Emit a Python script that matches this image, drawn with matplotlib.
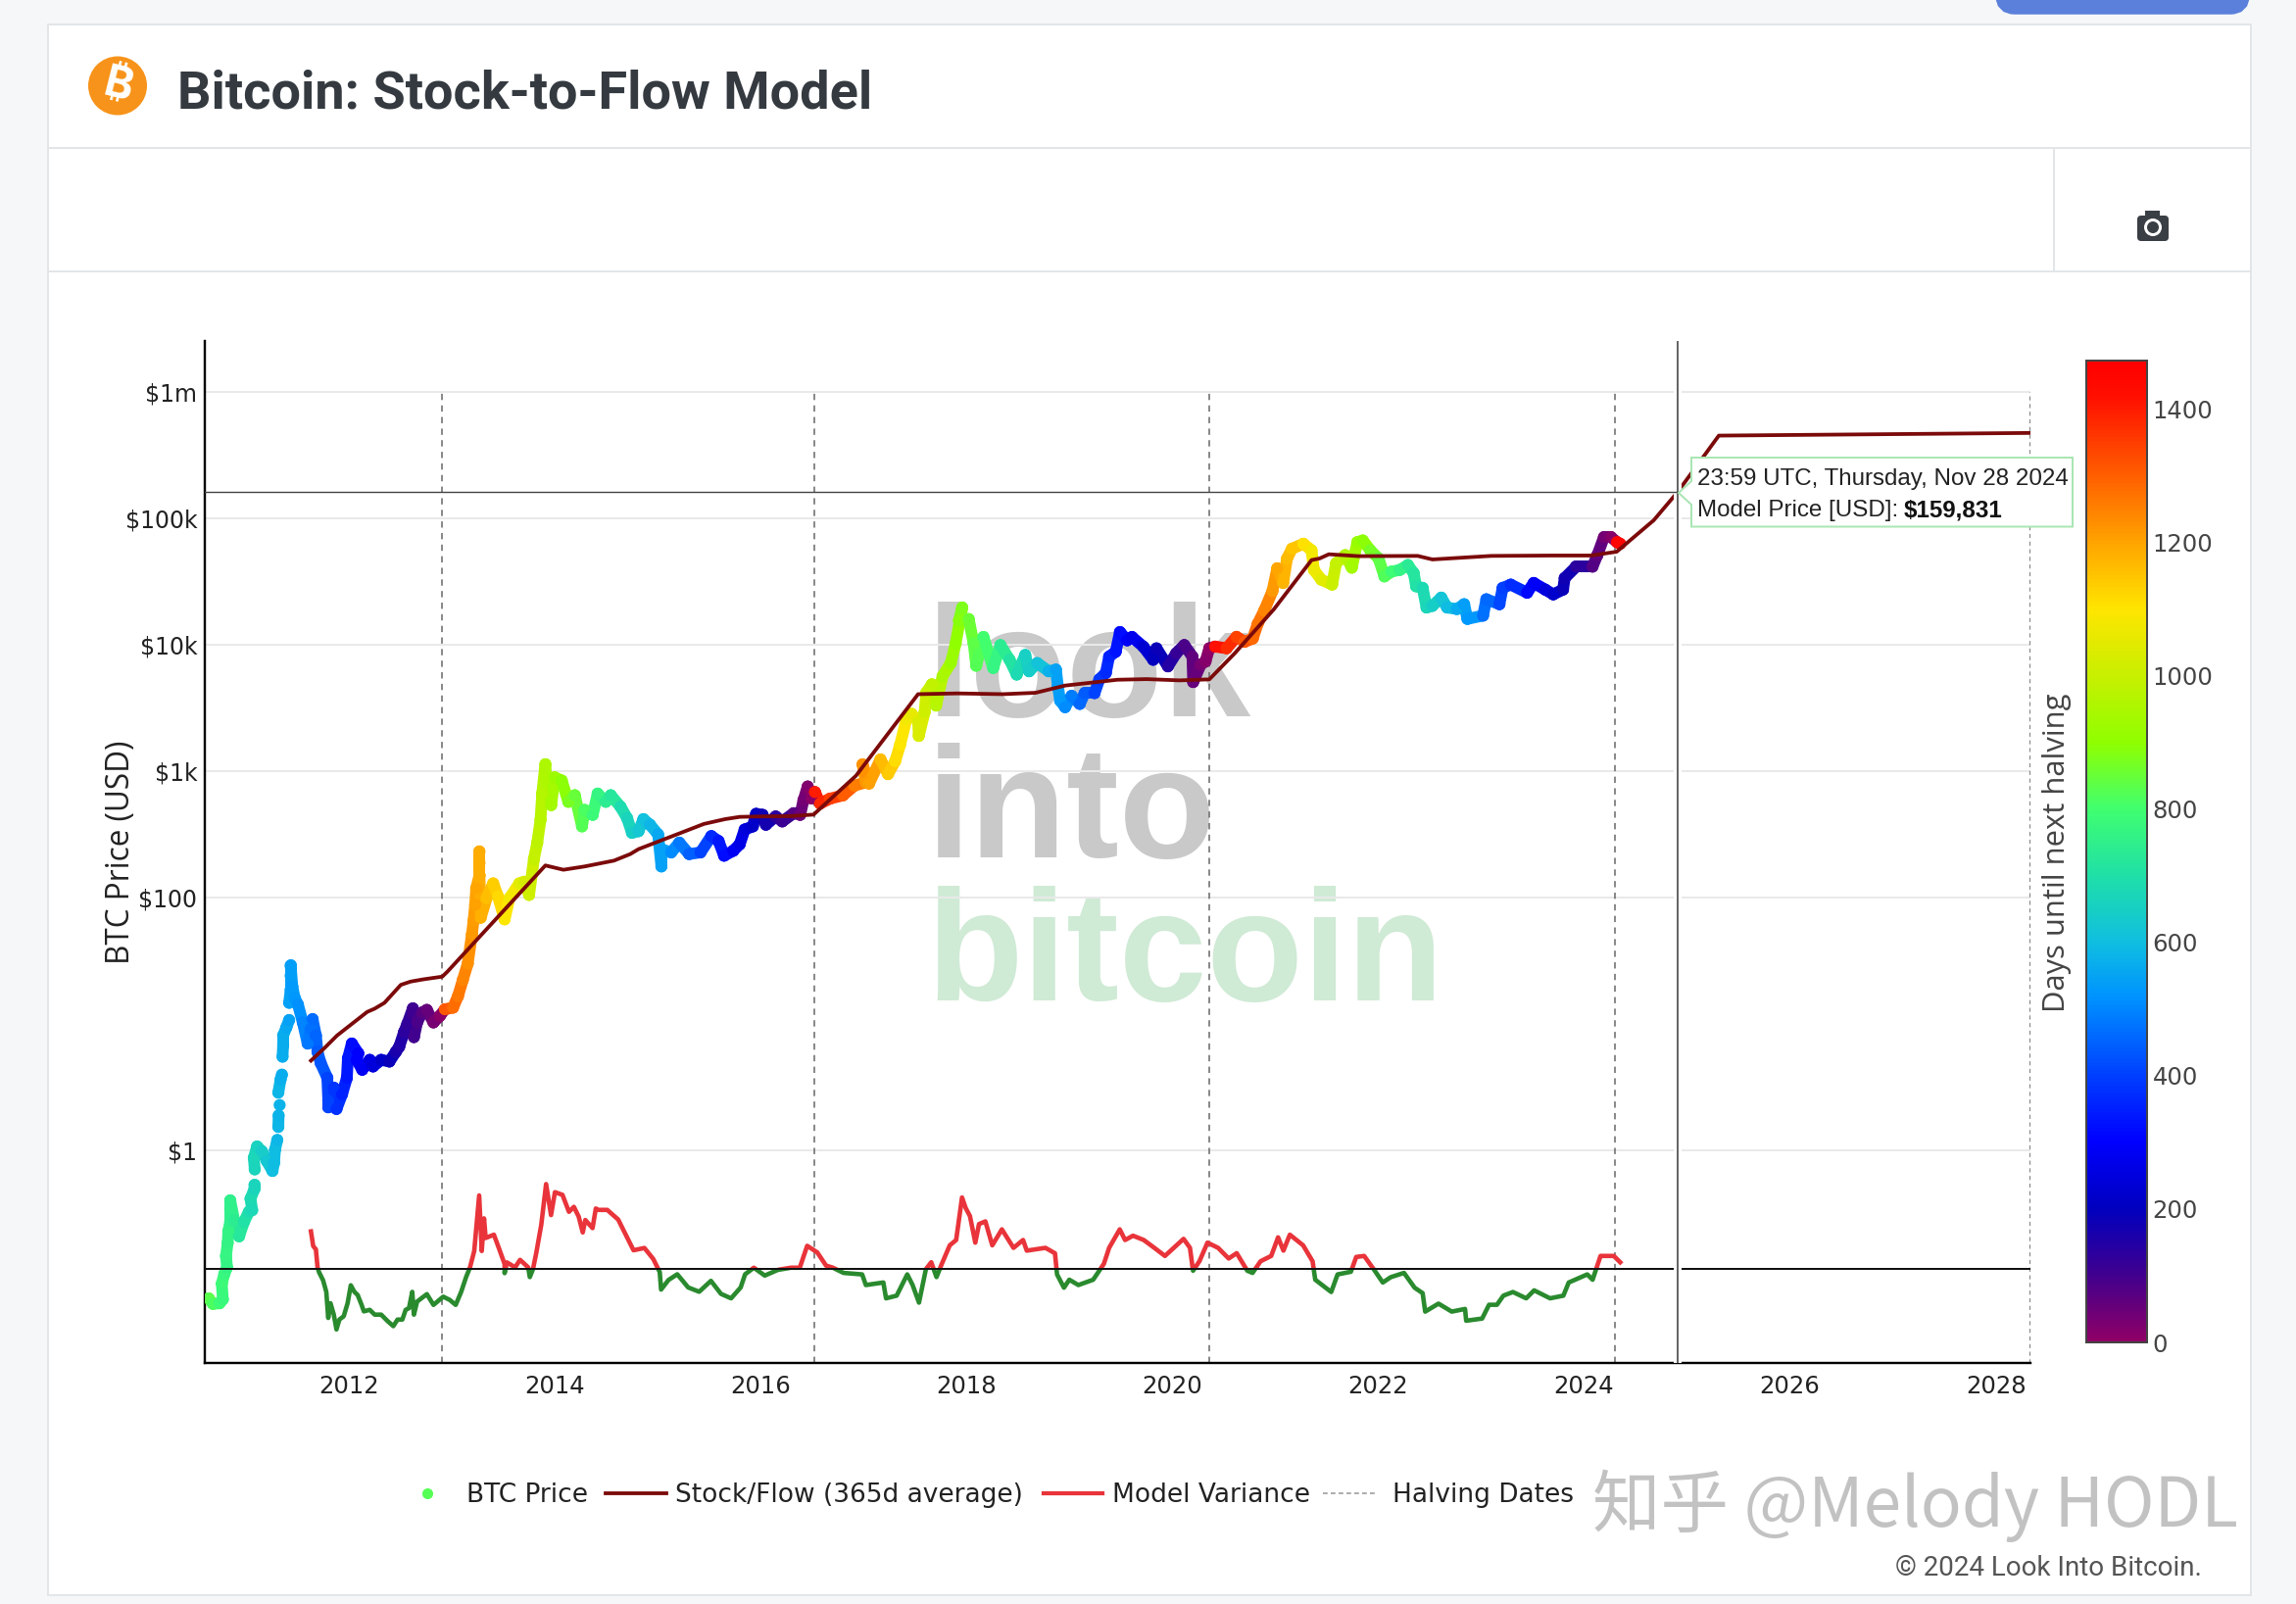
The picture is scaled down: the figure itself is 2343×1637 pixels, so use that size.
from matplotlib import pyplot as plt
from matplotlib.collections import LineCollection
from matplotlib.colors import LinearSegmentedColormap, Normalize
from matplotlib.patches import Rectangle, Circle, FancyBboxPatch, Polygon
import numpy as np

W, H = 2343, 1637
PT = 0.72  # px to pt at dpi 100

# %% data. dates are decimal years, prices are log10(USD)
halving_years = [2012.91, 2016.52, 2020.36, 2024.30, 2028.33]
year_ticks = [2012, 2014, 2016, 2018, 2020, 2022, 2024, 2026, 2028]
price_ticks = [1, 100, 1000, 10000, 100000, 1000000]
price_tick_labels = ['$1', '$100', '$1k', '$10k', '$100k', '$1m']
days_ticks = [0, 200, 400, 600, 800, 1000, 1200, 1400]

# nan = visible gap between the dots
btc_years = [
    2010.641, 2010.682, 2010.746, 2010.778, 2010.768, 2010.793, 2010.819, 2010.809, 2010.825, 2010.831,
    2010.850, 2010.850, 2010.850, 2010.888, 2010.936, 2010.984, 2011.031, 2011.063, 2011.047, 2011.085, 2011.085,
    np.nan,
    2011.088, 2011.079, 2011.111, 2011.158, 2011.206, 2011.260, 2011.276, 2011.285, 2011.307,
    np.nan,
    2011.317, 2011.320,
    np.nan,
    2011.330,
    np.nan,
    2011.317, 2011.339, 2011.352,
    np.nan,
    2011.358, 2011.364, 2011.364, 2011.396, 2011.422,
    np.nan,
    2011.422, 2011.437, 2011.437, 2011.437, 2011.453, 2011.476, 2011.507, 2011.555, 2011.602, 2011.634, 2011.650,
    2011.682, 2011.698, 2011.729, 2011.793, 2011.802, 2011.802, 2011.856, 2011.882, 2011.936, 2011.983, 2011.993,
    2012.031, 2012.094, 2012.078, 2012.132, 2012.205, 2012.237, 2012.316, 2012.396, 2012.459, 2012.491, 2012.538,
    2012.570, 2012.624, 2012.634, 2012.665, 2012.713, 2012.760, 2012.824, 2012.887, 2012.935, 2013.014, 2013.062,
    2013.109, 2013.157, 2013.198, 2013.213, 2013.229, 2013.239, 2013.271, 2013.271, 2013.271, 2013.271, 2013.283,
    2013.340, 2013.404, 2013.451, 2013.515, 2013.562, 2013.658, 2013.705, 2013.753, 2013.800, 2013.832, 2013.864,
    2013.880, 2013.911, 2013.918, 2013.968, 2014.000, 2014.070, 2014.134, 2014.197, 2014.267, 2014.292, 2014.371,
    2014.419, 2014.498, 2014.546, 2014.641, 2014.705, 2014.752, 2014.816, 2014.863, 2014.927, 2015.006, 2015.038,
    2015.038, 2015.133, 2015.212, 2015.307, 2015.418, 2015.523, 2015.593, 2015.647, 2015.736, 2015.799, 2015.847,
    2015.926, 2015.958, 2016.021, 2016.053, 2016.148, 2016.212, 2016.323, 2016.386, 2016.418, 2016.459, 2016.497,
    2016.510, 2016.530, 2016.579, 2016.675, 2016.802, 2016.913, 2017.024, 2016.992, 2017.055, 2017.166, 2017.239,
    2017.309, 2017.357, 2017.420, 2017.468, 2017.531, 2017.538, 2017.595, 2017.611, 2017.665, 2017.706, 2017.769,
    2017.849, 2017.896, 2017.960, 2017.928, 2018.023, 2018.071, 2018.096, 2018.166, 2018.261, 2018.331, 2018.420,
    2018.489, 2018.572, 2018.610, 2018.689, 2018.800, 2018.870, 2018.889, 2018.911, 2018.959, 2019.022, 2019.102,
    2019.149, 2019.245, 2019.292, 2019.355, 2019.387, 2019.451, 2019.492, 2019.562, 2019.609, 2019.720, 2019.815,
    2019.847, 2019.958, 2020.038, 2020.117, 2020.196, 2020.203, 2020.276, 2020.323, 2020.360, 2020.417, 2020.528,
    2020.624, 2020.703, 2020.782, 2020.830, 2020.893, 2020.973, 2021.020, 2021.077, 2021.115, 2021.163, 2021.274,
    2021.353, 2021.376, 2021.448, 2021.553, 2021.591, 2021.680, 2021.744, 2021.798, 2021.851, 2021.924, 2022.004,
    2022.061, 2022.130, 2022.210, 2022.289, 2022.346, 2022.368, 2022.432, 2022.470, 2022.527, 2022.613, 2022.670,
    2022.765, 2022.835, 2022.867, 2023.019, 2023.051, 2023.178, 2023.209, 2023.288, 2023.447, 2023.511, 2023.622,
    2023.701, 2023.796, 2023.812, 2023.923, 2024.082, 2024.129, 2024.193, 2024.262, 2024.320, 2024.351,
]
btc_log_price = [
    -1.169, -1.213, -1.208, -1.177, -1.053, -0.976, -0.924, -0.834, -0.730, -0.640,
    -0.563, -0.459, -0.395, -0.550, -0.679, -0.563, -0.485, -0.472, -0.382, -0.304, -0.273,
    np.nan,
    -0.150, -0.059, 0.031, -0.007, -0.085, -0.162, -0.098, 0.005, 0.083,
    np.nan,
    0.186, 0.277,
    np.nan,
    0.359,
    np.nan,
    0.457, 0.561, 0.599,
    np.nan,
    0.741, 0.832, 0.909, 0.974, 1.031,
    np.nan,
    1.167, 1.271, 1.382, 1.462, 1.296, 1.206, 1.154, 1.012, 0.845, 0.961, 1.038,
    0.909, 0.780, 0.690, 0.574, 0.393, 0.341, 0.496, 0.328, 0.444, 0.574, 0.728,
    0.845, 0.767, 0.716, 0.638, 0.716, 0.664, 0.716, 0.703, 0.780, 0.819, 0.935,
    1.000, 1.123, 0.896, 1.012, 1.090, 1.111, 1.012, 1.064, 1.116, 1.129, 1.219,
    1.348, 1.477, 1.710, 1.814, 1.943, 2.072, 2.175, 2.273, 2.364, 2.175, 1.840,
    1.994, 2.111, 2.007, 1.827, 1.994, 2.111, 2.124, 2.020, 2.304, 2.433, 2.614,
    2.821, 3.053, 2.950, 2.730, 2.950, 2.924, 2.756, 2.808, 2.562, 2.692, 2.653,
    2.821, 2.756, 2.808, 2.717, 2.627, 2.511, 2.524, 2.619, 2.575, 2.498, 2.245,
    2.382, 2.356, 2.433, 2.343, 2.356, 2.485, 2.446, 2.330, 2.369, 2.421, 2.537,
    2.562, 2.661, 2.653, 2.575, 2.640, 2.601, 2.666, 2.653, 2.769, 2.877, 2.782,
    2.834, 2.833, 2.742, 2.781, 2.807, 2.884, 2.910, 3.052, 2.900, 3.091, 2.975,
    3.078, 3.207, 3.414, 3.452, 3.388, 3.277, 3.465, 3.620, 3.685, 3.517, 3.749,
    3.853, 4.008, 4.292, 4.188, 4.201, 4.008, 3.832, 4.059, 3.814, 3.995, 3.879,
    3.762, 3.917, 3.788, 3.853, 3.788, 3.801, 3.672, 3.556, 3.504, 3.594, 3.530,
    3.615, 3.615, 3.724, 3.775, 3.904, 3.943, 4.098, 4.033, 4.059, 3.982, 3.879,
    3.969, 3.827, 3.930, 3.995, 3.904, 3.703, 3.840, 3.866, 3.970, 3.983, 3.970,
    4.060, 4.021, 4.047, 4.163, 4.267, 4.422, 4.602, 4.486, 4.680, 4.757, 4.796,
    4.744, 4.589, 4.512, 4.473, 4.641, 4.706, 4.607, 4.809, 4.822, 4.744, 4.680,
    4.538, 4.576, 4.589, 4.628, 4.563, 4.460, 4.447, 4.292, 4.305, 4.370, 4.292,
    4.280, 4.318, 4.202, 4.228, 4.357, 4.318, 4.447, 4.473, 4.409, 4.486, 4.434,
    4.396, 4.434, 4.525, 4.615, 4.615, 4.706, 4.848, 4.848, 4.809, 4.796,
]

s2f_years = [
    2011.634, 2011.761, 2011.888, 2012.031, 2012.180, 2012.253, 2012.348, 2012.507, 2012.602, 2012.729, 2012.910,
    2012.960, 2013.911, 2014.086, 2014.292, 2014.577, 2014.736, 2014.816, 2015.212, 2015.450, 2015.656, 2015.799,
    2015.974, 2016.291, 2016.516, 2016.928, 2017.531, 2017.912, 2018.356, 2018.673, 2018.959, 2019.467, 2019.752,
    2020.069, 2020.360, 2020.608, 2020.988, 2021.353, 2021.432, 2021.521, 2021.813, 2022.384, 2022.527, 2023.098,
    2023.685, 2024.066, 2024.317, 2024.677, 2024.908, 2025.309, 2028.331,
]
s2f_log_price = [
    0.710, 0.806, 0.909, 1.000, 1.095, 1.121, 1.167, 1.309, 1.335, 1.353, 1.374,
    1.414, 2.253, 2.219, 2.245, 2.291, 2.343, 2.382, 2.506, 2.581, 2.619, 2.637,
    2.640, 2.643, 2.655, 2.962, 3.607, 3.613, 3.607, 3.618, 3.675, 3.721, 3.726,
    3.716, 3.724, 3.931, 4.279, 4.667, 4.680, 4.713, 4.698, 4.700, 4.672, 4.700,
    4.703, 4.703, 4.733, 4.982, 5.204, 5.651, 5.672,
]

# model variance shares the price axis in the picture, baseline at 10**-0.937
variance_base = -0.937
variance_years = [
    2011.634, 2011.656, 2011.682, 2011.698, 2011.713, 2011.752, 2011.783, 2011.802, 2011.824, 2011.856, 2011.882,
    2011.910, 2011.952, 2011.990, 2012.021, 2012.056, 2012.088, 2012.126, 2012.148, 2012.205, 2012.253, 2012.316,
    2012.380, 2012.434, 2012.475, 2012.522, 2012.554, 2012.586, 2012.618, 2012.634, 2012.665, 2012.760, 2012.824,
    2012.919, 2012.983, 2013.040, 2013.093, 2013.141, 2013.179, 2013.220, 2013.268, 2013.293, 2013.315, 2013.331,
    2013.411, 2013.458, 2013.515, 2013.515, 2013.537, 2013.617, 2013.665, 2013.744, 2013.760, 2013.791, 2013.823,
    2013.871, 2013.918, 2013.966, 2014.004, 2014.077, 2014.140, 2014.188, 2014.235, 2014.274, 2014.299, 2014.369,
    2014.401, 2014.427, 2014.512, 2014.618, 2014.703, 2014.767, 2014.873, 2014.959, 2015.022, 2015.035, 2015.107,
    2015.192, 2015.298, 2015.405, 2015.519, 2015.617, 2015.715, 2015.808, 2015.851, 2015.936, 2016.042, 2016.170,
    2016.297, 2016.382, 2016.454, 2016.552, 2016.637, 2016.704, 2016.807, 2016.988, 2017.024, 2017.194, 2017.220,
    2017.323, 2017.426, 2017.478, 2017.540, 2017.607, 2017.659, 2017.710, 2017.762, 2017.839, 2017.901, 2017.958,
    2017.994, 2018.035, 2018.087, 2018.123, 2018.185, 2018.252, 2018.345, 2018.458, 2018.551, 2018.587, 2018.768,
    2018.861, 2018.881, 2018.948, 2019.000, 2019.088, 2019.232, 2019.336, 2019.387, 2019.490, 2019.542, 2019.619,
    2019.723, 2019.826, 2019.929, 2020.110, 2020.172, 2020.202, 2020.264, 2020.342, 2020.445, 2020.548, 2020.626,
    2020.729, 2020.780, 2020.858, 2020.961, 2021.028, 2021.080, 2021.142, 2021.271, 2021.363, 2021.389, 2021.544,
    2021.606, 2021.735, 2021.787, 2021.864, 2021.957, 2022.045, 2022.122, 2022.251, 2022.354, 2022.432, 2022.457,
    2022.586, 2022.715, 2022.844, 2022.855, 2023.010, 2023.077, 2023.154, 2023.216, 2023.309, 2023.438, 2023.515,
    2023.670, 2023.799, 2023.851, 2024.031, 2024.083, 2024.160, 2024.289, 2024.351,
]
variance_log = [
    -0.640, -0.756, -0.782, -0.924, -0.963, -1.027, -1.118, -1.324, -1.208, -1.298, -1.415,
    -1.337, -1.311, -1.208, -1.066, -1.118, -1.143, -1.221, -1.272, -1.260, -1.298, -1.298,
    -1.350, -1.389, -1.337, -1.337, -1.260, -1.247, -1.118, -1.298, -1.195, -1.136, -1.221,
    -1.156, -1.182, -1.221, -1.118, -1.001, -0.924, -0.795, -0.356, -0.795, -0.537, -0.692,
    -0.666, -0.769, -0.898, -0.970, -0.885, -0.924, -0.865, -0.924, -1.001, -0.937, -0.808,
    -0.588, -0.266, -0.511, -0.330, -0.351, -0.485, -0.446, -0.524, -0.648, -0.550, -0.614,
    -0.459, -0.470, -0.470, -0.546, -0.685, -0.789, -0.771, -0.858, -0.962, -1.100, -1.024,
    -0.979, -1.083, -1.117, -1.031, -1.134, -1.169, -1.083, -0.979, -0.927, -0.989, -0.944,
    -0.927, -0.927, -0.754, -0.806, -0.910, -0.927, -0.968, -0.980, -1.064, -1.044, -1.169,
    -1.148, -0.980, -1.064, -1.203, -0.939, -0.884, -1.001, -0.896, -0.750, -0.708, -0.372,
    -0.456, -0.519, -0.729, -0.582, -0.561, -0.750, -0.624, -0.770, -0.708, -0.792, -0.770,
    -0.813, -0.980, -1.085, -1.022, -1.064, -1.022, -0.896, -0.770, -0.624, -0.708, -0.674,
    -0.708, -0.770, -0.834, -0.699, -0.770, -0.951, -0.876, -0.729, -0.770, -0.854, -0.812,
    -0.951, -0.968, -0.876, -0.834, -0.687, -0.792, -0.666, -0.750, -0.876, -1.022, -1.119,
    -0.980, -0.959, -0.842, -0.834, -0.939, -1.044, -1.002, -0.968, -1.085, -1.128, -1.274,
    -1.211, -1.274, -1.253, -1.346, -1.329, -1.220, -1.220, -1.148, -1.119, -1.169, -1.106,
    -1.169, -1.148, -1.044, -0.980, -1.022, -0.834, -0.834, -0.884,
]

cursor_year = 2024.908
cursor_log_price = 5.204

# %% colour scale of the markers
rainbow = LinearSegmentedColormap.from_list('halving', [
    (0 / 1472, '#8f0066'), (100 / 1472, '#40008f'), (200 / 1472, '#0000c0'), (300 / 1472, '#0000ff'),
    (400 / 1472, '#0040ff'), (520 / 1472, '#0095ff'), (600 / 1472, '#10bfe0'), (700 / 1472, '#20e0a8'),
    (800 / 1472, '#40ff70'), (900 / 1472, '#90ff00'), (1000 / 1472, '#c8f000'), (1100 / 1472, '#ffe600'),
    (1200 / 1472, '#ffa500'), (1300 / 1472, '#ff6000'), (1420 / 1472, '#ff1000'), (1, '#ff0000')])
norm = Normalize(0, 1472)


def axes_px(x0, y0, x1, y1):
    # rectangle in image pixels (y down) to figure fractions
    return [x0 / W, 1 - y1 / H, (x1 - x0) / W, (y1 - y0) / H]


fig = plt.figure(figsize=(W / 100, H / 100), dpi=100, facecolor='#f5f7f9')

# %% page furniture behind the chart
bg = fig.add_axes([0, 0, 1, 1], zorder=0)
bg.set_xlim(0, W)
bg.set_ylim(H, 0)
bg.axis('off')
border = '#e3e6e8'
bg.add_patch(Rectangle((49, 25), 2296.5 - 49, 1628 - 25, fc='white', ec=border, lw=2 * PT))
bg.plot([49, 2297], [151, 151], color=border, lw=2 * PT)
bg.plot([49, 2297], [277, 277], color=border, lw=2 * PT)
bg.plot([2096, 2096], [151, 277], color=border, lw=2 * PT)
bg.add_patch(FancyBboxPatch((2046, -20), 240, 25, boxstyle='round,pad=0,rounding_size=10', fc='#5b80db', ec='#5b80db', lw=14))
bg.add_patch(Circle((120, 87.5), 30, fc='#f7931a', ec='none'))
bg.text(120, 88, '\u20bf', color='white', fontsize=32, fontweight='bold',
        family=['Inter', 'Noto Sans', 'Roboto', 'Open Sans', 'Lato', 'Liberation Sans', 'DejaVu Sans'],
        ha='center', va='center', rotation=-14)
bg.text(181, 96, 'Bitcoin: Stock-to-Flow Model', color='#343a40', fontsize=39, fontweight='bold', family='Roboto',
        ha='left', va='center')

# camera icon
bg.add_patch(FancyBboxPatch((2181, 220), 32, 26, boxstyle='round,pad=0,rounding_size=4', fc='#3a3f45', ec='none'))
bg.add_patch(Rectangle((2189, 215), 15, 7, fc='#3a3f45', ec='none'))
bg.add_patch(Circle((2197, 232), 9, fc='white', ec='none'))
bg.add_patch(Circle((2197, 232), 6, fc='#3a3f45', ec='none'))

# logo behind the data
for label, y_base, color in [('look', 731, '#c9c9c9'), ('into', 875, '#c9c9c9'), ('bitcoin', 1021, '#cfead5')]:
    bg.text(945.5, y_base, label, color=color, fontsize=116, fontweight='bold', family='Liberation Sans',
            ha='left', va='baseline')

# %% main chart
ax = fig.add_axes(axes_px(209, 348, 2071.5, 1391), zorder=1)
ax.patch.set_alpha(0)
ax.set_yscale('log')
ax.set_xlim(2010.603, 2028.331)
ax.set_ylim(10 ** -1.68, 10 ** 6.399)
for side in ['top', 'right']:
    ax.spines[side].set_visible(False)
for side in ['left', 'bottom']:
    ax.spines[side].set_linewidth(2.4 * PT)
ax.set_xticks(year_ticks, [str(y) for y in year_ticks])
ax.set_yticks(price_ticks, price_tick_labels)
ax.minorticks_off()
ax.tick_params(length=0, labelsize=17, pad=5.5, colors='#222222')
ax.tick_params(axis='x', labelsize=17.5, pad=9)
ax.grid(axis='y', color='#e9e9e9', lw=2 * PT, zorder=0)
ax.set_axisbelow(True)
ax.set_ylabel('BTC Price (USD)', fontsize=22.7, color='#222222', family='Open Sans')
ax.yaxis.set_label_coords(-0.037, 0.5)

btc_x = np.array(btc_years)
btc_y = 10 ** np.array(btc_log_price)
next_halving = np.array(halving_years)[np.minimum(np.searchsorted(halving_years, np.nan_to_num(btc_x, nan=2011.0)), 4)]
days_left = (next_halving - btc_x) * 365.25

halving_style = dict(color='#6e6e6e', lw=1.6 * PT, ls=(0, (4, 3.4)), zorder=2)
for h_year in halving_years[:4]:
    ax.plot([h_year, h_year], [10 ** -1.68, 1e6], **halving_style)
ax.plot([halving_years[4]] * 2, [10 ** -1.68, 1e6], color='#8a8a8a', lw=1.2 * PT, ls=(0, (3.5, 3)), zorder=2, clip_on=False)

# thick segments between the read points so the dots merge like in the dense original
segments, seg_days = [], []
for i in range(len(btc_x) - 1):
    if np.isnan(btc_x[i]) or np.isnan(btc_x[i + 1]):
        continue
    segments.append([(btc_x[i], btc_y[i]), (btc_x[i + 1], btc_y[i + 1])])
    seg_days.append(days_left[i])
ax.add_collection(LineCollection(segments, colors=rainbow(norm(seg_days)), linewidths=8.6, capstyle='round', zorder=3))
ax.scatter(btc_x, btc_y, c=days_left, cmap=rainbow, norm=norm, s=78, linewidths=0, zorder=3)

ax.plot(s2f_years, 10 ** np.array(s2f_log_price), color='#7b0a0a', lw=3.8 * PT, zorder=4, solid_joinstyle='round')

# variance: red above the baseline, green below
var_y = 10 ** np.array(variance_log)
line_red, = ax.plot(variance_years, var_y, color='#e8343a', lw=4.6 * PT, zorder=4)
line_green, = ax.plot(variance_years, var_y, color='#2a8a2e', lw=4.6 * PT, zorder=4)
base_y = 10 ** variance_base
line_red.set_clip_path(Rectangle((2010, base_y), 20, 100, transform=ax.transData))
line_green.set_clip_path(Rectangle((2010, 1e-3), 20, base_y - 1e-3, transform=ax.transData))
ax.plot([2010.603, 2028.331], [base_y, base_y], color='#111111', lw=2 * PT, zorder=5)

# hover cursor with its white halo
ax.axvline(cursor_year, color='white', lw=8 * PT, zorder=5.5)
ax.axvline(cursor_year, color='#555555', lw=1.8 * PT, zorder=6)
ax.plot([2010.603, cursor_year], [10 ** cursor_log_price] * 2, color='#444444', lw=1.4 * PT, zorder=6)

# %% colour bar
cax = fig.add_axes(axes_px(2129, 368, 2190.5, 1370), zorder=1)
gradient = np.linspace(1472, 0, 512).reshape(-1, 1)
cax.imshow(gradient, cmap=rainbow, norm=norm, aspect='auto', extent=[0, 1, 0, 1472])
cax.set_xticks([])
cax.yaxis.tick_right()
cax.set_yticks(days_ticks, [str(d) for d in days_ticks])
cax.tick_params(length=0, labelsize=17.5, pad=4.5, colors='#444444')
for spine in cax.spines.values():
    spine.set_linewidth(2 * PT)
    spine.set_color('#444444')

# %% everything on top: tooltip, legend, footer
top = fig.add_axes([0, 0, 1, 1], zorder=2)
top.set_xlim(0, W)
top.set_ylim(H, 0)
top.axis('off')

top.text(2099, 870, 'Days until next halving', rotation=90, color='#444444', fontsize=22.3, family='Open Sans',
         ha='center', va='center')

tip_edge = '#a9e6b3'
top.add_patch(Polygon([(1726, 467), (2115, 467), (2115, 537.5), (1726, 537.5), (1726, 515), (1713, 503), (1726, 491)],
                      closed=True, fc='white', ec=tip_edge, lw=2 * PT))
top.text(1732, 489, '23:59 UTC, Thursday, Nov 28 2024', color='#222222', fontsize=17.4, family='Liberation Sans',
         ha='left', va='center')
top.text(1732, 521, 'Model Price [USD]: ', color='#222222', fontsize=17.4, family='Liberation Sans', ha='left', va='center')
top.text(1943, 521, '$159,831', color='#111111', fontsize=17.4, fontweight='bold', family='Liberation Sans',
         ha='left', va='center')

leg_y = 1526
top.plot([436], [leg_y - 2], marker='o', ms=8, color='#55ff55', mec='none')
top.text(476, leg_y, 'BTC Price', fontsize=19, color='#222222', ha='left', va='center')
top.plot([618, 680], [leg_y - 2, leg_y - 2], color='#7b0a0a', lw=3.8 * PT)
top.text(689, leg_y, 'Stock/Flow (365d average)', fontsize=19, color='#222222', ha='left', va='center')
top.plot([1065, 1125], [leg_y - 2, leg_y - 2], color='#e8343a', lw=4.2 * PT)
top.text(1135, leg_y, 'Model Variance', fontsize=19, color='#222222', ha='left', va='center')
top.plot([1350, 1406], [leg_y - 2, leg_y - 2], color='#9a9a9a', lw=1.6 * PT, ls=(0, (3, 2)))
top.text(1421, leg_y, 'Halving Dates', fontsize=19, color='#222222', ha='left', va='center')

top.text(1625, 1537, '知乎 @Melody HODL', fontsize=50, color='#c2c2c2', family=['Noto Sans CJK SC', 'DejaVu Sans'],
         ha='left', va='center')
top.text(2247, 1600, '© 2024 Look Into Bitcoin.', fontsize=20, color='#555555', family='Roboto', ha='right', va='center')

fig.savefig('out.png', dpi=100)
